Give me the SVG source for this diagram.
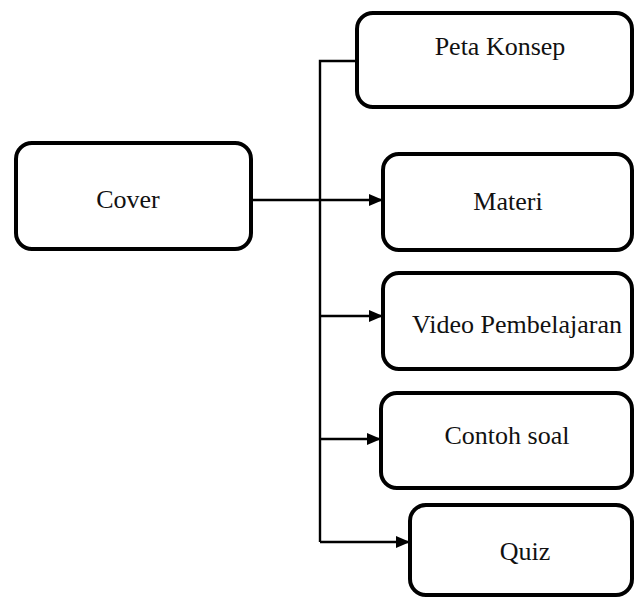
<svg xmlns="http://www.w3.org/2000/svg" width="635" height="599" viewBox="0 0 635 599">
<defs>
<marker id="arr" markerWidth="14" markerHeight="12" refX="13" refY="6" orient="auto" markerUnits="userSpaceOnUse">
<path d="M0,0 L14,6 L0,12 Z" fill="#000"/>
</marker>
<style>
.box{fill:#fff;stroke:#000;stroke-width:4}
.lbl{font-family:"Liberation Serif","Times New Roman",serif;font-size:26px;fill:#111;text-anchor:middle}
.con{fill:none;stroke:#000;stroke-width:2.4}
</style>
</defs>
<rect width="635" height="599" fill="#fff"/>
<g id="connectors">
<path class="con" d="M357,61 H320 V542"/>
<path class="con" d="M251,200 H382" marker-end="url(#arr)"/>
<path class="con" d="M321,316 H382" marker-end="url(#arr)"/>
<path class="con" d="M320,439 H380" marker-end="url(#arr)"/>
<path class="con" d="M320,542 H409" marker-end="url(#arr)"/>
</g>
<g id="cover">
<rect class="box" x="16" y="143" width="235" height="106" rx="16"/>
<text class="lbl" x="128" y="208">Cover</text>
</g>
<g id="peta-konsep">
<rect class="box" x="357" y="13" width="275" height="94" rx="16"/>
<text class="lbl" x="500" y="55">Peta Konsep</text>
</g>
<g id="materi">
<rect class="box" x="383" y="154" width="249" height="96" rx="16"/>
<text class="lbl" x="508" y="210">Materi</text>
</g>
<g id="video">
<rect class="box" x="383" y="273" width="249" height="96" rx="16"/>
<text class="lbl" x="517" y="333">Video Pembelajaran</text>
</g>
<g id="contoh-soal">
<rect class="box" x="381" y="393" width="251" height="95" rx="16"/>
<text class="lbl" x="507" y="444">Contoh soal</text>
</g>
<g id="quiz">
<rect class="box" x="410" y="505" width="222" height="90" rx="16"/>
<text class="lbl" x="525" y="560">Quiz</text>
</g>
</svg>
